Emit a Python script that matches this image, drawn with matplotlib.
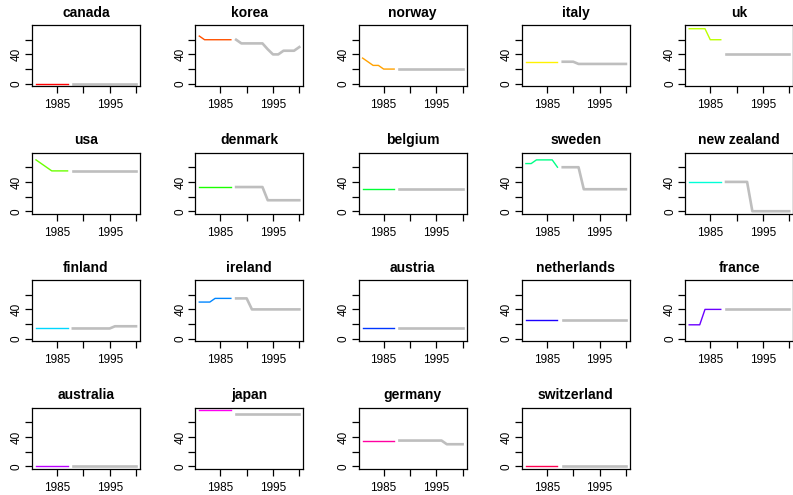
import matplotlib
matplotlib.use("Agg")
import matplotlib.pyplot as plt
from matplotlib.colors import hsv_to_rgb

plt.rcParams['font.family'] = ['Liberation Sans', 'DejaVu Sans']

countries = ["canada", "korea", "norway", "italy", "uk",
             "usa", "denmark", "belgium", "sweden", "new zealand",
             "finland", "ireland", "austria", "netherlands", "france",
             "australia", "japan", "germany", "switzerland"]

years_pre = [1981, 1982, 1983, 1984, 1985, 1986, 1987]
years_post = [1988, 1989, 1990, 1991, 1992, 1993, 1994,
              1995, 1996, 1997, 1998, 1999, 2000]

# values before 1988 (coloured) and from 1988 (grey)
pre = {
    "canada":      [0, 0, 0, 0, 0, 0, 0],
    "korea":       [65, 60, 60, 60, 60, 60, 60],
    "norway":      [35, 30, 25, 25, 20, 20, 20],
    "italy":       [30, 30, 30, 30, 30, 30, 30],
    "uk":          [75, 75, 75, 75, 60, 60, 60],
    "usa":         [70, 65, 60, 55, 55, 55, 55],
    "denmark":     [33, 33, 33, 33, 33, 33, 33],
    "belgium":     [30, 30, 30, 30, 30, 30, 30],
    "sweden":      [65, 65, 70, 70, 70, 70, 60],
    "new zealand": [40, 40, 40, 40, 40, 40, 40],
    "finland":     [14, 14, 14, 14, 14, 14, 14],
    "ireland":     [50, 50, 50, 55, 55, 55, 55],
    "austria":     [14, 14, 14, 14, 14, 14, 14],
    "netherlands": [26, 26, 26, 26, 26, 26, 26],
    "france":      [19, 19, 19, 40, 40, 40, 40],
    "australia":   [0, 0, 0, 0, 0, 0, 0],
    "japan":       [77, 77, 77, 77, 77, 77, 77],
    "germany":     [35, 35, 35, 35, 35, 35, 35],
    "switzerland": [0, 0, 0, 0, 0, 0, 0],
}
post = {
    "canada":      [0, 0, 0, 0, 0, 0, 0, 0, 0, 0, 0, 0, 0],
    "korea":       [60, 55, 55, 55, 55, 55, 47, 40, 40, 45, 45, 45, 50],
    "norway":      [20, 20, 20, 20, 20, 20, 20, 20, 20, 20, 20, 20, 20],
    "italy":       [30, 30, 30, 27, 27, 27, 27, 27, 27, 27, 27, 27, 27],
    "uk":          [40, 40, 40, 40, 40, 40, 40, 40, 40, 40, 40, 40, 40],
    "usa":         [55, 55, 55, 55, 55, 55, 55, 55, 55, 55, 55, 55, 55],
    "denmark":     [33, 33, 33, 33, 33, 33, 15, 15, 15, 15, 15, 15, 15],
    "belgium":     [30, 30, 30, 30, 30, 30, 30, 30, 30, 30, 30, 30, 30],
    "sweden":      [60, 60, 60, 60, 30, 30, 30, 30, 30, 30, 30, 30, 30],
    "new zealand": [40, 40, 40, 40, 40, 0, 0, 0, 0, 0, 0, 0, 0],
    "finland":     [14, 14, 14, 14, 14, 14, 14, 14, 17, 17, 17, 17, 17],
    "ireland":     [55, 55, 55, 40, 40, 40, 40, 40, 40, 40, 40, 40, 40],
    "austria":     [14, 14, 14, 14, 14, 14, 14, 14, 14, 14, 14, 14, 14],
    "netherlands": [26, 26, 26, 26, 26, 26, 26, 26, 26, 26, 26, 26, 26],
    "france":      [40, 40, 40, 40, 40, 40, 40, 40, 40, 40, 40, 40, 40],
    "australia":   [0, 0, 0, 0, 0, 0, 0, 0, 0, 0, 0, 0, 0],
    "japan":       [71, 71, 71, 71, 71, 71, 71, 71, 71, 71, 71, 71, 71],
    "germany":     [35, 35, 35, 35, 35, 35, 35, 35, 35, 30, 30, 30, 30],
    "switzerland": [0, 0, 0, 0, 0, 0, 0, 0, 0, 0, 0, 0, 0],
}

x_ticks = [1985, 1990, 1995, 2000]
x_labels = ["1985", "", "1995", ""]
y_ticks = [0, 20, 40, 60]
y_labels = ["0", "", "40", ""]

# R-style rainbow palette, one hue per country
n = len(countries)
colors = [hsv_to_rgb((i / n, 1, 1)) for i in range(n)]

# shared axis ranges with R's 4% padding
ymax = max(max(max(pre[c]), max(post[c])) for c in countries)
ymin = 0
ypad = 0.04 * (ymax - ymin)
xpad = 0.04 * (years_post[-1] - years_pre[0])

W, H = 793, 495
fig = plt.figure(figsize=(W / 100, H / 100), dpi=100)

for i, c in enumerate(countries):
    row, col = divmod(i, 5)
    left = (32 + 163.3 * col) / W
    bottom = 1 - (86 + 127.5 * row) / H
    ax = fig.add_axes([left, bottom, 108 / W, 61 / H])
    ax.plot(years_pre, pre[c], color=colors[i], lw=1.0)
    ax.plot(years_post, post[c], color="#BEBEBE", lw=1.9)
    ax.set_xlim(years_pre[0] - xpad, years_post[-1] + xpad)
    ax.set_ylim(ymin - ypad, ymax + ypad)
    ax.set_xticks(x_ticks)
    ax.set_xticklabels(x_labels)
    ax.set_yticks(y_ticks)
    ax.set_yticklabels(y_labels, rotation=90, va="center")
    ax.tick_params(axis="both", direction="out", length=5, width=0.9,
                   labelsize=8.5)
    ax.tick_params(axis="x", pad=4.5)
    ax.tick_params(axis="y", pad=1.5)
    for s in ax.spines.values():
        s.set_linewidth(0.9)
    ax.set_title(c, fontsize=10, fontweight="bold", pad=6)

fig.savefig("out.png", dpi=100)
